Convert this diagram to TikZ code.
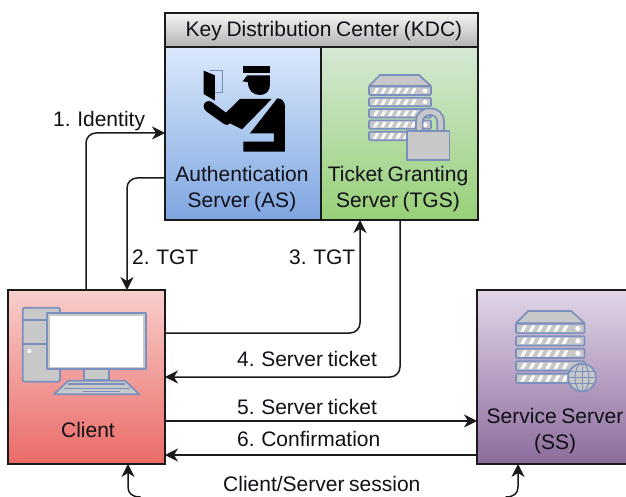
\documentclass[tikz,border=0pt]{standalone}
\usepackage{fontspec}
\setmainfont[WordSpace=0.8]{Liberation Sans}
\usetikzlibrary{arrows.meta,calc}
\definecolor{ink}{HTML}{1A1A1A}
\definecolor{txt}{HTML}{101018}
\definecolor{icoline}{HTML}{7C90C0}
\definecolor{icofill}{HTML}{C8C8C8}
\tikzset{
  box/.style={draw=ink,line width=1.7pt,inner sep=0pt,outer sep=0pt,anchor=north west,shading=axis,shading angle=0},
  lbl/.style={inner sep=0pt,yshift=-0.6pt,text=txt,font=\fontsize{21}{26}\selectfont,align=center},
  conn/.style={draw=ink,line width=1.5pt,rounded corners=10pt,-{Stealth[length=13pt,width=13pt,inset=4pt]}},
  ico/.style={draw=icoline,line width=1.7pt,fill=icofill,line join=round},
}
\newcommand{\servericon}[3]{%
 \begin{scope}[shift={(#1,#2)},scale=#3]
  \path[ico] (0,11) -- (11,0) -- (50,0) -- (62,11) -- cycle;
  \foreach \r in {0,1,2,3,4}{
    \path[ico,rounded corners=1pt] (0,11.5+\r*11.3) rectangle (62,20+\r*11.3);
    \foreach \s in {0,1,2,3,4,5}
      \fill[white] (4+\s*7.5,18.6+\r*11.3) -- (7+\s*7.5,13+\r*11.3) -- (10+\s*7.5,13+\r*11.3) -- (7+\s*7.5,18.6+\r*11.3) -- cycle;
    \fill[white] (56,15.8+\r*11.3) circle (2.2);
  }
 \end{scope}}
\begin{document}
\begin{tikzpicture}[x=1pt,y=-1pt]
\useasboundingbox (0,0) rectangle (626,497);
\clip (0,0) rectangle (626,497);
\fill[white] (0,0) rectangle (626,497);
% boxes
\node[box,top color=white!96!black,bottom color=black!30,minimum width=313,minimum height=34] (kdc) at (165,13) {};
\node[box,top color={rgb,255:red,218;green,232;blue,252},bottom color={rgb,255:red,126;green,166;blue,224},minimum width=156,minimum height=173] (as) at (165,47) {};
\node[box,top color={rgb,255:red,213;green,232;blue,212},bottom color={rgb,255:red,151;green,208;blue,119},minimum width=157,minimum height=173] (tgs) at (321,47) {};
\node[box,top color={rgb,255:red,248;green,206;blue,204},bottom color={rgb,255:red,234;green,107;blue,102},minimum width=157,minimum height=174] (client) at (8,290) {};
\node[box,top color={rgb,255:red,225;green,213;blue,231},bottom color={rgb,255:red,140;green,108;blue,156},minimum width=152,minimum height=174] (ss) at (477,290) {};
% labels
\node[lbl] (tkdc) at (324,30) {Key Distribution Center (KDC)};
\node[lbl] (tas) at (242,188) {Authentication\\Server (AS)};
\node[lbl] (ttgs) at (398,188) {Ticket Granting\\Server (TGS)};
\node[lbl] (tcl) at (88,429) {Client};
\node[lbl] (tss) at (555,430.5) {Service Server\\(SS)};
\node[lbl,anchor=west] (l1) at (53,120) {1. Identity};
\node[lbl,anchor=west] (l2) at (132,257) {2. TGT};
\node[lbl,anchor=west] (l3) at (289,257) {3. TGT};
\node[lbl,anchor=west] (l4) at (237,358) {4. Server ticket};
\node[lbl,anchor=west] (l5) at (237,406) {5. Server ticket};
\node[lbl,anchor=west] (l6) at (237,438) {6. Confirmation};
\node[lbl,anchor=west] (l7) at (223,483) {Client/Server session};
% connector guides
\coordinate (v1) at (86,133);
\coordinate (v2) at (127,178);
\coordinate (v3) at (360,333);
\coordinate (v4) at (400,377);
\coordinate (h5) at (0,421);
\coordinate (h6) at (0,455);
\coordinate (b1) at (128,487);
\coordinate (b2) at (518,487);
\coordinate (b3) at (140,497);
\coordinate (b4) at (506,497);
% connectors
\draw[conn] (client.north -| v1) |- (as.west |- v1);
\draw[conn] (as.west |- v2) -| (client.north -| v2);
\draw[conn] (client.east |- v3) -| (tgs.south -| v3);
\draw[conn] (tgs.south -| v4) |- (client.east |- v4);
\draw[conn] (client.east |- h5) -- (ss.west |- h5);
\draw[conn] (ss.west |- h6) -- (client.east |- h6);
\draw[conn,rounded corners=0pt,{Stealth[length=13pt,width=13pt,inset=4pt]}-{Stealth[length=13pt,width=13pt,inset=4pt]}] (client.south -| b1) -- (b1) .. controls (128,493) and (132,497) .. (b3) -- (b3 |- 0,502) -- (b4 |- 0,502) -- (b4) .. controls (514,497) and (518,493) .. (b2) -- (ss.south -| b2);
% officer icon
\begin{scope}[shift={(160,0)},x=0.3333pt,y=-0.3333pt]
  \draw[draw=icoline!70!gray,line width=0.8pt] (150,210) -- (187,210) -- (187,278) -- (165,278);
  \fill[black] (131,212) -- (165,226) -- (165,302) -- (131,282) -- cycle;
  \fill[black] (250,198) -- (330,198) -- (330,220) -- (250,220) -- cycle;
  \fill[black] (262,226) -- (330,226) -- (330,255) .. controls (330,275) and (315,285) .. (300,285) .. controls (280,285) and (264,272) .. (264,247) -- (248,244) -- cycle;
  \fill[black] (131,318) .. controls (131,306) and (146,299) .. (155,306) -- (198,338) -- (240,297) -- (335,297) -- (246,388) -- (210,370) .. controls (205,376) and (198,376) .. (192,372) -- (140,335) .. controls (134,330) and (131,325) .. (131,318) -- cycle;
  \fill[black] (352,295) .. controls (366,295) and (375,306) .. (375,320) -- (375,455) -- (250,455) -- (250,425) -- (342,425) -- (342,400) -- (270,400) -- cycle;
\end{scope}
% server icons
\servericon{369}{75}{1}
\servericon{516}{311}{1.105}
% lock
\begin{scope}[shift={(160,0)},x=0.3333pt,y=-0.3333pt]
  \path[ico] (768,395) -- (768,365) .. controls (768,340) and (785,325) .. (810,325) .. controls (835,325) and (852,340) .. (852,365) -- (852,395) -- (832,395) -- (832,368) .. controls (832,352) and (822,345) .. (810,345) .. controls (798,345) and (788,352) .. (788,368) -- (788,395) -- cycle;
  \path[ico] (742,393) rectangle (869,480);
\end{scope}
% globe
\begin{scope}[shift={(582,377.5)}]
  \path[ico] (0,0) circle (14);
  \draw[icoline,line width=1pt] (0,-14) -- (0,14) (-14,0) -- (14,0) (-12.5,-6) -- (12.5,-6) (-12.5,6) -- (12.5,6);
  \draw[icoline,line width=1pt] (0,0) ellipse (7 and 14);
\end{scope}
% computer icon
\begin{scope}[shift={(0,280)},x=0.3333pt,y=-0.3333pt]
  \path[ico,rounded corners=2pt] (68,83) rectangle (180,305);
  \draw[icoline,line width=1.7pt] (68,120) -- (180,120) (68,192) -- (180,192);
  \fill[white] (88,213) circle (2pt);
  \path[ico] (252,268) rectangle (326,300);
  \path[ico] (162,343) -- (205,302) -- (375,302) -- (418,343) -- cycle;
  \draw[icoline,line width=1.4pt] (205,312) -- (375,312) (192,325) -- (390,325) (250,334) -- (360,334);
  \path[ico] (142,100) rectangle (438,268);
  \fill[white] (150,108) rectangle (430,260);
\end{scope}
\end{tikzpicture}
\end{document}
